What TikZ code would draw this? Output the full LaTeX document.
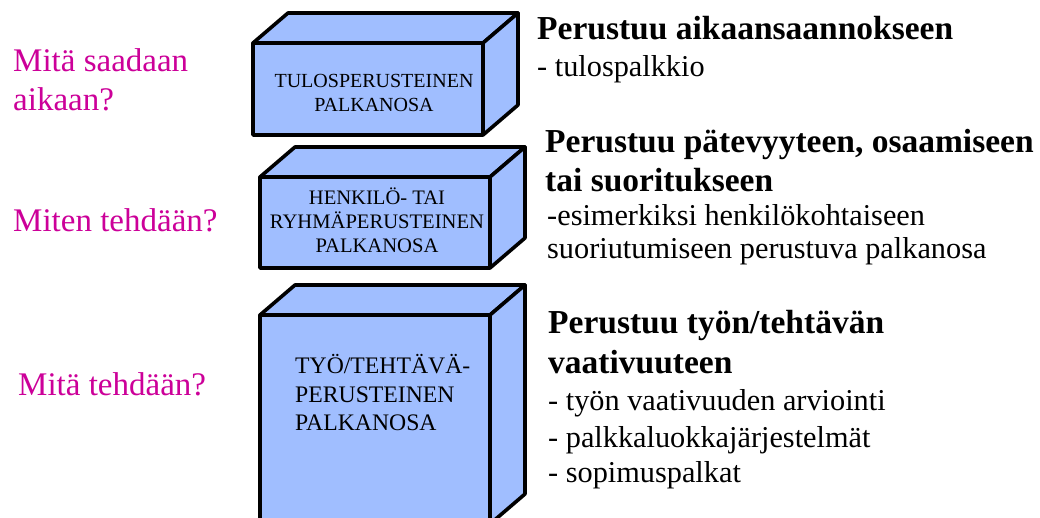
\documentclass[tikz,border=0pt]{standalone}
\usepackage{fontspec}
\setmainfont{Liberation Serif}
\definecolor{boxblue}{RGB}{160,190,255}
\definecolor{qmag}{RGB}{204,0,153}
\newcommand\mycuboid[4]{%
  \filldraw[cubeface] (#1,#2) rectangle (#3,#4);
  \filldraw[cubeface] (#1,#2) -- (#1+35,#2-30) -- (#3+35,#2-30) -- (#3,#2) -- cycle;
  \filldraw[cubeface] (#3,#2) -- (#3+35,#2-30) -- (#3+35,#4-30) -- (#3,#4) -- cycle;}
\begin{document}
\begin{tikzpicture}[x=1pt,y=-1pt,
  cubeface/.style={fill=boxblue,draw=black,line width=3.6pt,line join=round},
  lbl/.style={anchor=base west,inner sep=0pt},
  ctr/.style={anchor=base,inner sep=0pt},
  question/.style={lbl,text=qmag,font=\fontsize{33}{38}\selectfont},
  headb/.style={lbl,font=\fontsize{33.5}{38}\selectfont\bfseries},
  item/.style={lbl,font=\fontsize{30.3}{36}\selectfont},
  boxtxt/.style={font=\fontsize{20.6}{24}\selectfont}]
\useasboundingbox (0,0) rectangle (1040,518);
\fill[white] (0,0) rectangle (1040,518);
% boxes
\mycuboid{253}{43}{483}{135}
\mycuboid{260}{177}{490}{268}
\mycuboid{260}{315}{490}{524}
% box texts
\node[ctr,boxtxt,font=\fontsize{20}{24}\selectfont] (t1a) at (374,88) {TULOSPERUSTEINEN};
\node[ctr,boxtxt,font=\fontsize{20}{24}\selectfont] (t1b) at (374,112) {PALKANOSA};
\node[ctr,boxtxt] (t2a) at (377,205) {HENKILÖ- TAI};
\node[ctr,boxtxt] (t2b) at (377,229) {RYHMÄPERUSTEINEN};
\node[ctr,boxtxt] (t2c) at (377,253) {PALKANOSA};
\node[lbl,font=\fontsize{23.7}{28}\selectfont] (t3a) at (295,373) {TYÖ/TEHTÄVÄ-};
\node[lbl,font=\fontsize{23.7}{28}\selectfont] (t3b) at (295,402) {PERUSTEINEN};
\node[lbl,font=\fontsize{23.7}{28}\selectfont] (t3c) at (295,430) {PALKANOSA};
% questions
\node[question] (q1a) at (13,72) {Mitä saadaan};
\node[question] (q1b) at (13,111) {aikaan?};
\node[question] (q2) at (13,232) {Miten tehdään?};
\node[question] (q3) at (18,395) {Mitä tehdään?};
% right descriptions
\node[headb] (h1) at (537,40) {Perustuu aikaansaannokseen};
\node[item] (i1) at (537,77) {- tulospalkkio};
\node[headb] (h2a) at (545,153) {Perustuu pätevyyteen, osaamiseen};
\node[headb] (h2b) at (545,192) {tai suoritukseen};
\node[item] (i2a) at (547,226) {-esimerkiksi henkilökohtaiseen};
\node[item] (i2b) at (547,259) {suoriutumiseen perustuva palkanosa};
\node[headb] (h3a) at (548,333) {Perustuu työn/tehtävän};
\node[headb] (h3b) at (548,373) {vaativuuteen};
\node[item] (i3a) at (548,410) {- työn vaativuuden arviointi};
\node[item] (i3b) at (548,447) {- palkkaluokkajärjestelmät};
\node[item] (i3c) at (548,482) {- sopimuspalkat};
\end{tikzpicture}
\end{document}
